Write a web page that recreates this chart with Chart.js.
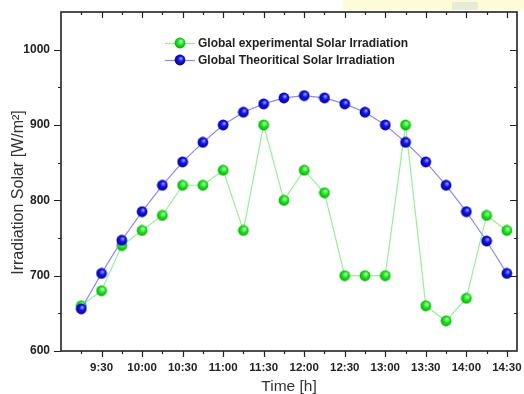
<!DOCTYPE html>
<html><head><meta charset="utf-8">
<script src="https://cdn.jsdelivr.net/npm/chart.js@4/dist/chart.umd.min.js"></script>
<style>
html,body{margin:0;padding:0;background:#fff;}
#wrap{position:relative;width:524px;height:394px;overflow:hidden;}
#band{position:absolute;left:343px;top:0;width:181px;height:10px;background:#fdfbd8;}
#band2{position:absolute;left:452px;top:2px;width:26px;height:8px;background:#e6ebd6;}
canvas{position:absolute;left:0;top:0;}
</style></head><body>
<div id="wrap"><div id="band"></div><div id="band2"></div><canvas id="c" width="524" height="394"></canvas></div>
<script>
const times = ['9:15','9:30','9:45','10:00','10:15','10:30','10:45','11:00','11:15','11:30','11:45',
               '12:00','12:15','12:30','12:45','13:00','13:15','13:30','13:45','14:00','14:15','14:30'];
const experimental = [660,680,740,760,780,820,820,840,760,900,800,840,810,700,700,700,900,660,640,670,780,760];
const theoretical  = [656,703,747,785,820,851,877,900,917,928,936,939,936,928,917,900,877,851,820,785,746,703];
const xTickLabels = ['9:30','10:00','10:30','11:00','11:30','12:00','12:30','13:00','13:30','14:00','14:30'];
const yTickValues = [600,700,800,900,1000];
const seriesNames = ['Global experimental Solar Irradiation','Global Theoritical Solar Irradiation'];
const xTitle = 'Time [h]';
const yTitle = 'Irradiation Solar [W/m\u00B2]';

const FAM = 'Arial, "Liberation Sans", Helvetica, sans-serif';
const toHours = t => { const p = t.split(':').map(Number); return p[0] + p[1] / 60; };

function ball(light, base, dark) {
  const c = document.createElement('canvas');
  c.width = c.height = 12;
  const g = c.getContext('2d');
  const gr = g.createRadialGradient(7.2, 4.2, 0.3, 6, 6, 6);
  gr.addColorStop(0, light);
  gr.addColorStop(0.4, base);
  gr.addColorStop(1, dark);
  g.fillStyle = gr;
  g.beginPath(); g.arc(6, 6, 5.4, 0, Math.PI * 2); g.fill();
  return c;
}
const greenBall = ball('#e0ffe0', '#22ee22', '#00a000');
const blueBall = ball('#a0a0ff', '#1414ee', '#000088');

const framePlugin = {
  id: 'frame',
  afterDraw(chart) {
    const { ctx, chartArea: a, scales: { x, y } } = chart;
    ctx.save();
    ctx.strokeStyle = '#222';
    ctx.lineWidth = 1.2;
    ctx.beginPath();
    for (let v = 9.25; v <= 14.5 + 1e-9; v += 0.25) {
      const px = Math.round(x.getPixelForValue(v)) + 0.5;
      const len = Math.abs(v * 2 - Math.round(v * 2)) < 1e-6 ? 6 : 3;
      ctx.moveTo(px, a.bottom); ctx.lineTo(px, a.bottom + len);
      ctx.moveTo(px, a.top); ctx.lineTo(px, a.top + len);
    }
    for (let v = 650; v <= 1000; v += 50) {
      const py = Math.round(y.getPixelForValue(v)) + 0.5;
      const len = v % 100 === 0 ? 7 : 3;
      ctx.moveTo(a.left - len, py); ctx.lineTo(a.left, py);
      ctx.moveTo(a.right - len, py); ctx.lineTo(a.right, py);
    }
    const p600 = Math.round(y.getPixelForValue(600)) + 0.5;
    ctx.moveTo(a.left - 7, p600); ctx.lineTo(a.left, p600);
    ctx.stroke();
    ctx.lineWidth = 1.6;
    ctx.strokeRect(a.left, a.top, a.right - a.left, a.bottom - a.top);

    // legend
    const balls = [greenBall, blueBall];
    const ly = [43, 60];
    chart.data.datasets.forEach((ds, i) => {
      ctx.strokeStyle = ds.borderColor;
      ctx.lineWidth = 1.2;
      ctx.beginPath(); ctx.moveTo(165, ly[i] + 0.5); ctx.lineTo(195, ly[i] + 0.5); ctx.stroke();
      ctx.drawImage(balls[i], 180 - 6, ly[i] - 6);
      ctx.fillStyle = '#222';
      ctx.font = 'bold 12px ' + FAM;
      ctx.textAlign = 'left';
      ctx.textBaseline = 'middle';
      ctx.fillText(ds.label, 198, ly[i] + 0.5);
    });

    // y title
    ctx.translate(19, 192.5);
    ctx.rotate(-Math.PI / 2);
    ctx.fillStyle = '#333';
    ctx.font = '16px ' + FAM;
    ctx.textAlign = 'center';
    ctx.textBaseline = 'middle';
    ctx.fillText(yTitle, 0, 0);
    ctx.restore();
  }
};

new Chart(document.getElementById('c'), {
  type: 'line',
  data: {
    datasets: [
      { label: seriesNames[0], data: times.map((t, i) => ({ x: toHours(t), y: experimental[i] })),
        borderColor: '#96f096', borderWidth: 1.2, pointStyle: greenBall, order: 1, tension: 0 },
      { label: seriesNames[1], data: times.map((t, i) => ({ x: toHours(t), y: theoretical[i] })),
        borderColor: '#8c8cf0', borderWidth: 1.2, pointStyle: blueBall, order: 0, tension: 0 }
    ]
  },
  options: {
    responsive: false, animation: false, devicePixelRatio: 1,
    layout: { padding: { top: 12, right: 7, left: 0, bottom: 0 } },
    plugins: { legend: { display: false }, tooltip: { enabled: false } },
    scales: {
      x: {
        type: 'linear', min: 9, max: 14.625,
        afterBuildTicks: s => { s.ticks = xTickLabels.map(l => ({ value: toHours(l) })); },
        afterFit: s => { s.height = 43; s.paddingLeft = 0; s.paddingRight = 0; },
        ticks: {
          callback: v => { const h = Math.floor(v + 1e-9); const m = Math.round((v - h) * 60); return h + ':' + (m < 10 ? '0' : '') + m; },
          font: { family: FAM, size: 11.5, weight: 'bold' }, color: '#222', padding: 10, maxRotation: 0, autoSkip: false
        },
        grid: { display: false, drawTicks: false },
        border: { display: false },
        title: { display: true, text: xTitle, font: { family: FAM, size: 15.5 }, color: '#333', padding: { top: 0, bottom: -2 } }
      },
      y: {
        min: 600, max: 1050,
        afterBuildTicks: s => { s.ticks = yTickValues.map(v => ({ value: v })); },
        afterFit: s => { s.width = 61; s.paddingTop = 0; s.paddingBottom = 0; },
        ticks: { callback: v => String(v), font: { family: FAM, size: 12, weight: 'bold' }, color: '#222', padding: 11 },
        grid: { display: false, drawTicks: false },
        border: { display: false }
      }
    }
  },
  plugins: [framePlugin]
});
</script>
</body></html>
